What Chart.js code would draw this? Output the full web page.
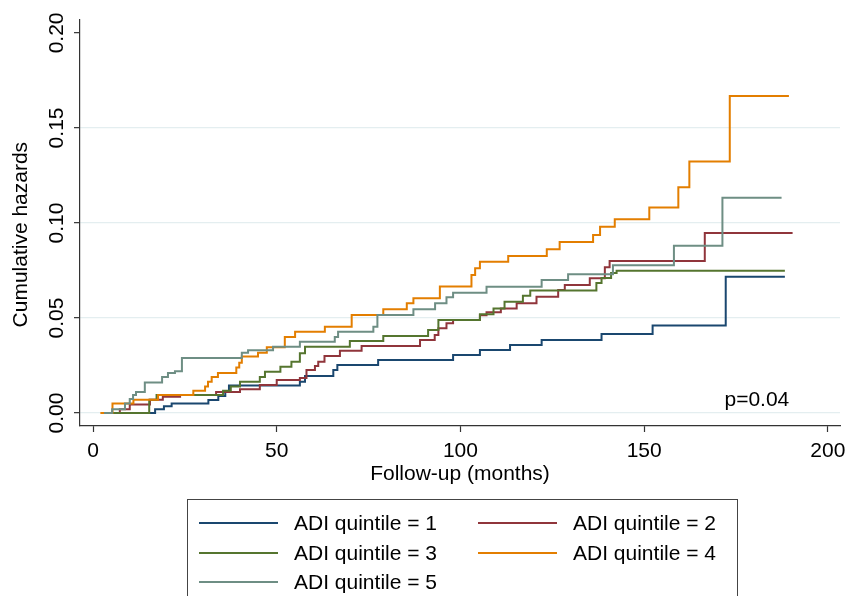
<!DOCTYPE html>
<html>
<head>
<meta charset="utf-8">
<title>Cumulative hazards by ADI quintile</title>
<script src="https://cdn.jsdelivr.net/npm/chart.js@4.4.0/dist/chart.umd.min.js"></script>
<style>
    html, body { margin: 0; padding: 0; background: #fff; overflow: hidden; }
    #wrap { position: relative; width: 847px; height: 596px; }
    #legend {
        position: absolute; left: 187px; top: 499px; width: 551px; height: 130px;
        border: 1.5px solid #444; box-sizing: border-box;
        font: 21px "Liberation Sans", Arial, sans-serif; color: #000;
    }
    .item { position: absolute; display: flex; align-items: center; height: 24px; white-space: nowrap; }
    .item .swatch { width: 79px; height: 2px; margin-right: 16px; }
</style>
</head>
<body>
<div id="wrap">
    <canvas id="hazardChart" width="847" height="596"></canvas>
    <div id="legend"></div>
</div>
<script>
// Follow-up time (months) where each step happens, and cumulative hazard after the step
const months1 = [4, 16.9, 19.3, 21.4, 31.4, 34.1, 36, 37, 56.3, 57.7, 65.4, 66.5, 77.6, 98, 105.3, 113.5, 122.1, 138.4, 152.3, 172.2, 188.3];
const hazard1 = [0, 0.002, 0.0035, 0.005, 0.0068, 0.009, 0.0112, 0.0145, 0.0165, 0.0195, 0.0226, 0.0253, 0.0279, 0.0305, 0.0332, 0.0358, 0.0384, 0.0416, 0.046, 0.0717, 0.0717];

const months2 = [3, 7.3, 10, 15.5, 19, 23.7, 33.5, 40, 45.4, 50, 56.3, 58.1, 60.4, 61.3, 63, 67.2, 73.1, 89, 93, 94, 96.2, 98, 105.3, 107.1, 111, 115.3, 120.7, 126.6, 128.4, 135.2, 139.3, 140.6, 166.5, 190.4];
const hazard2 = [0, 0.002, 0.0045, 0.007, 0.0086, 0.0095, 0.011, 0.0125, 0.0147, 0.0174, 0.0184, 0.0226, 0.0247, 0.027, 0.030, 0.0328, 0.0353, 0.0384, 0.041, 0.0446, 0.0472, 0.049, 0.0515, 0.053, 0.055, 0.0577, 0.0612, 0.0647, 0.0674, 0.0709, 0.0767, 0.080, 0.0947, 0.0947];

const months3 = [3, 15.3, 17.3, 35.4, 37.5, 40, 45.4, 46.8, 51, 54, 56.3, 57.7, 69.9, 79, 91.2, 94, 105.3, 109, 112, 117, 119, 137, 138.4, 141, 142.5, 188.3];
const hazard3 = [0, 0.007, 0.0095, 0.0117, 0.014, 0.0165, 0.019, 0.0217, 0.0244, 0.027, 0.0314, 0.0349, 0.0379, 0.0405, 0.0437, 0.049, 0.052, 0.055, 0.0586, 0.0617, 0.0645, 0.0684, 0.071, 0.0737, 0.0749, 0.0749];

const months4 = [2, 5.3, 11, 17.7, 27.3, 30.5, 31.3, 32.3, 34, 39, 39.8, 40.5, 44.9, 47.3, 52.2, 55, 63.1, 70.4, 79, 85.4, 87.2, 94.4, 103, 104, 105.3, 113, 123.5, 127, 136.1, 138, 142, 151.4, 159.3, 162.3, 173.3, 189.4];
const hazard4 = [0, 0.005, 0.007, 0.0095, 0.0117, 0.0139, 0.0165, 0.019, 0.021, 0.024, 0.0265, 0.0297, 0.0317, 0.0346, 0.040, 0.0428, 0.0454, 0.0516, 0.0546, 0.0577, 0.0604, 0.0666, 0.0726, 0.0762, 0.0796, 0.0826, 0.0862, 0.090, 0.0937, 0.098, 0.102, 0.1082, 0.1188, 0.1323, 0.1668, 0.1668];

const months5 = [3, 5.2, 8.7, 10, 10.9, 11.7, 14.1, 18.8, 20.4, 22.3, 24.2, 40.5, 42.2, 49, 56.3, 65.8, 66.7, 76.3, 77.4, 87.2, 93.1, 96.2, 98, 107.1, 122.1, 129.3, 141.5, 158.1, 171.3, 187.4];
const hazard5 = [0, 0.002, 0.005, 0.0074, 0.0095, 0.011, 0.016, 0.019, 0.021, 0.022, 0.029, 0.0317, 0.033, 0.0349, 0.0375, 0.040, 0.0428, 0.0454, 0.0516, 0.0546, 0.0577, 0.0609, 0.0633, 0.0665, 0.070, 0.073, 0.0777, 0.088, 0.1133, 0.1133];

const seriesMonths = [months1, months2, months3, months4, months5];
const seriesHazards = [hazard1, hazard2, hazard3, hazard4, hazard5];
const seriesLabels = ['ADI quintile = 1', 'ADI quintile = 2', 'ADI quintile = 3', 'ADI quintile = 4', 'ADI quintile = 5'];
const seriesColors = ['#1a476f', '#90353b', '#55752f', '#e37e00', '#6e8e84'];

const xTicks = [0, 50, 100, 150, 200];
const yTicks = [0, 0.05, 0.10, 0.15, 0.20];
const pText = 'p=0.04';

const FONT = '"Liberation Sans", Arial, sans-serif';
const AXIS_COLOR = '#333';

// p-value annotation in the lower right corner of the plot
const pValueLabel = {
    id: 'pValueLabel',
    afterDatasetsDraw(chart) {
        const { ctx, scales: { x, y } } = chart;
        ctx.save();
        ctx.font = '21px ' + FONT;
        ctx.fillStyle = '#000';
        ctx.textAlign = 'right';
        ctx.textBaseline = 'alphabetic';
        ctx.fillText(pText, x.getPixelForValue(189.5), y.getPixelForValue(0.0037));
        ctx.restore();
    }
};

const datasets = seriesLabels.map((label, i) => ({
    label: label,
    data: seriesMonths[i].map((m, j) => ({ x: m, y: seriesHazards[i][j] })),
    borderColor: seriesColors[i],
    backgroundColor: seriesColors[i],
    borderWidth: 2,
    pointRadius: 0,
    fill: false,
    stepped: 'before',
    order: seriesLabels.length - i
}));

new Chart(document.getElementById('hazardChart'), {
    type: 'line',
    data: { datasets: datasets },
    options: {
        responsive: false,
        animation: false,
        layout: { padding: { left: 0, right: 7, top: 20, bottom: 109 } },
        plugins: {
            legend: { display: false },
            tooltip: { enabled: false }
        },
        scales: {
            x: {
                type: 'linear',
                min: -3.54,
                max: 203.3,
                afterBuildTicks: (scale) => { scale.ticks = xTicks.map(v => ({ value: v })); },
                afterFit: (scale) => {
                    scale.height = 61;
                    // keep the plot edges fixed, the end labels fit in the margins
                    scale.paddingLeft = 0;
                    scale.paddingRight = 0;
                },
                ticks: {
                    font: { family: FONT, size: 21 },
                    color: '#000',
                    padding: 7,
                    maxRotation: 0,
                    autoSkip: false
                },
                grid: {
                    drawOnChartArea: false,
                    tickLength: 6,
                    tickColor: AXIS_COLOR,
                    tickWidth: 1.2
                },
                border: { color: AXIS_COLOR, width: 1.2 },
                title: {
                    display: true,
                    text: 'Follow-up (months)',
                    font: { family: FONT, size: 21 },
                    color: '#000',
                    padding: { top: 0, bottom: 0 }
                }
            },
            y: {
                type: 'linear',
                min: -0.00684,
                max: 0.2068,
                afterBuildTicks: (scale) => { scale.ticks = yTicks.map(v => ({ value: v })); },
                afterFit: (scale) => {
                    scale.width = 80;
                    scale.paddingTop = 0;
                    scale.paddingBottom = 0;
                },
                ticks: {
                    font: { family: FONT, size: 21 },
                    color: '#000',
                    padding: -4,
                    minRotation: 90,
                    maxRotation: 90,
                    crossAlign: 'center',
                    callback: (v) => v.toFixed(2)
                },
                grid: {
                    color: (ctx) => (ctx.tick && ctx.tick.value > 0.19) ? 'rgba(0,0,0,0)' : '#e4eef0',
                    lineWidth: 1.3,
                    tickLength: 6,
                    tickColor: AXIS_COLOR,
                    tickWidth: 1.2
                },
                border: { color: AXIS_COLOR, width: 1.2 },
                title: {
                    display: true,
                    text: 'Cumulative hazards    ',
                    font: { family: FONT, size: 21 },
                    color: '#000',
                    padding: { top: 9, bottom: 0 }
                }
            }
        }
    },
    plugins: [pValueLabel]
});

// Legend box below the plot, two columns like the original
const legendBox = document.getElementById('legend');
const colLeft = [11, 290];
const rowTop = [11, 41, 70];
seriesLabels.forEach((label, i) => {
    const item = document.createElement('div');
    item.className = 'item';
    item.style.left = colLeft[i % 2] + 'px';
    item.style.top = rowTop[Math.floor(i / 2)] + 'px';
    const swatch = document.createElement('span');
    swatch.className = 'swatch';
    swatch.style.background = seriesColors[i];
    const text = document.createElement('span');
    text.textContent = label;
    item.appendChild(swatch);
    item.appendChild(text);
    legendBox.appendChild(item);
});
</script>
</body>
</html>
